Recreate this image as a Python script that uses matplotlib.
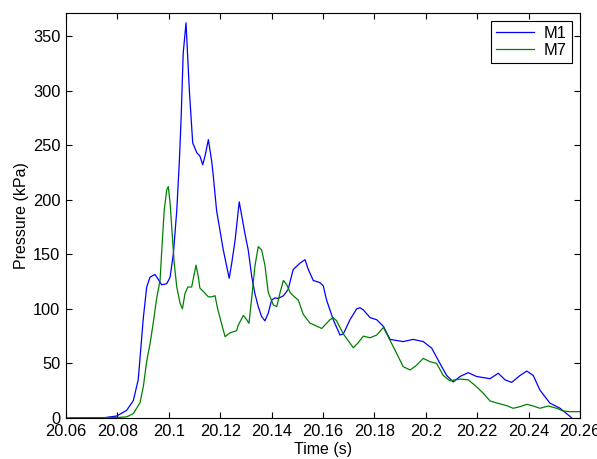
import matplotlib
matplotlib.use('Agg')
import matplotlib.pyplot as plt
from matplotlib.ticker import FixedLocator, FuncFormatter

plt.rcParams['font.family'] = ['Liberation Sans', 'DejaVu Sans']

# gauge M1 : time (s), pressure (kPa)
t_m1 = [20.060, 20.0752, 20.0771, 20.0797, 20.0836, 20.0862, 20.0881, 20.0888,
        20.0901, 20.0914, 20.0927, 20.0946, 20.0959, 20.0972, 20.0992, 20.1005,
        20.1018, 20.1031, 20.1041, 20.1048, 20.1056, 20.1067, 20.1080, 20.1093,
        20.1109, 20.1121, 20.1132, 20.1141, 20.1154, 20.1167, 20.1173, 20.1186,
        20.1212, 20.1235, 20.1245, 20.1258, 20.1274, 20.1297, 20.1309, 20.1323,
        20.1335, 20.1348, 20.1361, 20.1374, 20.1387, 20.1400, 20.1413, 20.1426,
        20.1446, 20.1465, 20.1472, 20.1484, 20.1511, 20.1530, 20.1543, 20.1562,
        20.1588, 20.1601, 20.1614, 20.1640, 20.1666, 20.1679, 20.1705, 20.1731,
        20.1744, 20.1757, 20.1783, 20.1809, 20.1835, 20.1861, 20.1912, 20.1951,
        20.1990, 20.2023, 20.2055, 20.2081, 20.2107, 20.2133, 20.2165, 20.2198,
        20.2250, 20.2282, 20.2308, 20.2334, 20.2367, 20.2393, 20.2418, 20.2444,
        20.2483, 20.2522, 20.2561, 20.2568]
p_m1 = [0, 0.3, 1.0, 1.8, 7, 16, 35, 55,
        92, 120, 129, 131.5, 127, 122, 123, 129,
        151, 190, 235, 275, 334, 362, 300, 252,
        243, 240, 232, 240, 255, 235, 222, 190,
        154, 128, 142, 163, 198, 168, 154, 129,
        114, 102, 93, 89, 96, 108, 110, 109.5,
        112, 118, 125, 136, 142, 145, 136, 126,
        124, 121, 108, 90, 76, 77, 90, 100,
        101, 99, 92, 90, 84, 72, 70, 72,
        70, 64, 50, 39, 33, 38, 41.5, 38,
        36, 41, 35, 32.6, 39, 43, 39, 25.6,
        13.6, 9, 1.5, 0]

# gauge M7
t_m7 = [20.060, 20.0797, 20.0836, 20.0862, 20.0888, 20.0901, 20.0914, 20.0927,
        20.0940, 20.0953, 20.0966, 20.0972, 20.0982, 20.0992, 20.0998, 20.1005,
        20.1014, 20.1021, 20.1031, 20.1044, 20.1053, 20.1063, 20.1074, 20.1089,
        20.1099, 20.1106, 20.1115, 20.1121, 20.1134, 20.1154, 20.1167, 20.1180,
        20.1190, 20.1199, 20.1219, 20.1238, 20.1264, 20.1270, 20.1290, 20.1303,
        20.1312, 20.1323, 20.1335, 20.1348, 20.1361, 20.1374, 20.1387, 20.1407,
        20.1420, 20.1433, 20.1446, 20.1459, 20.1472, 20.1484, 20.1504, 20.1523,
        20.1549, 20.1595, 20.1627, 20.1640, 20.1653, 20.1679, 20.1718, 20.1737,
        20.1757, 20.1783, 20.1809, 20.1835, 20.1861, 20.1887, 20.1912, 20.1939,
        20.1965, 20.1990, 20.2016, 20.2042, 20.2068, 20.2094, 20.2133, 20.2165,
        20.2191, 20.2224, 20.2250, 20.2282, 20.2315, 20.2340, 20.2367, 20.2393,
        20.2418, 20.2444, 20.2477, 20.2509, 20.2535, 20.2561, 20.2600]
p_m7 = [0, 0.5, 1, 4, 14, 29, 52, 68,
        88, 110, 126, 151, 190, 209, 212, 197,
        166, 142, 120, 105, 100, 114, 120, 120,
        132, 140, 129, 119, 116, 111, 111, 112,
        100, 92, 74.5, 78, 80, 85, 94, 90,
        86.7, 111, 139, 157, 154, 140, 115, 103.5,
        102, 115, 126, 122, 115, 112, 108, 95,
        87, 82, 90, 92, 89, 77, 64.4, 69,
        75, 73.5, 76, 83, 71, 59, 47, 44,
        48.5, 54.6, 51.6, 50, 39, 34, 35.7, 35,
        30, 22.6, 15.6, 13.4, 11.3, 8.9, 10.4, 12.5,
        11, 8.9, 11, 8.9, 6.4, 5.8, 5.8]

x_ticks = [20.06, 20.08, 20.10, 20.12, 20.14, 20.16, 20.18, 20.20, 20.22, 20.24, 20.26]
y_ticks = [0, 50, 100, 150, 200, 250, 300, 350]

fig = plt.figure(figsize=(5.97, 4.59), dpi=100)
ax = fig.add_axes([66 / 597, 41 / 459, 514 / 597, 405 / 459])

ax.plot(t_m1, p_m1, color='#0000ff', lw=0.9, label='M1')
ax.plot(t_m7, p_m7, color='#008000', lw=0.9, label='M7')

ax.set_xlim(20.06, 20.26)
ax.set_ylim(0, 371)
ax.xaxis.set_major_locator(FixedLocator(x_ticks))
ax.yaxis.set_major_locator(FixedLocator(y_ticks))
# matlab-style labels: drop trailing zeros
ax.xaxis.set_major_formatter(FuncFormatter(lambda v, pos: f'{v:.2f}'.rstrip('0').rstrip('.')))

ax.tick_params(direction='in', top=True, right=True, length=4.5, width=0.8,
               labelsize=11.8, pad=4)
ax.tick_params(axis='x', pad=4.5)
for s in ax.spines.values():
    s.set_linewidth(0.8)

ax.set_xlabel('Time (s)', fontsize=11.5, labelpad=2)
ax.set_ylabel('Pressure (kPa)', fontsize=11.5, labelpad=3)

leg = ax.legend(loc='upper right', fontsize=11.8, fancybox=False, edgecolor='black',
                framealpha=1, borderaxespad=0.5, handlelength=2.3, handletextpad=0.6,
                borderpad=0.3, labelspacing=0.1)
leg.get_frame().set_linewidth(0.8)

fig.savefig('out.png', dpi=100, facecolor='white')
